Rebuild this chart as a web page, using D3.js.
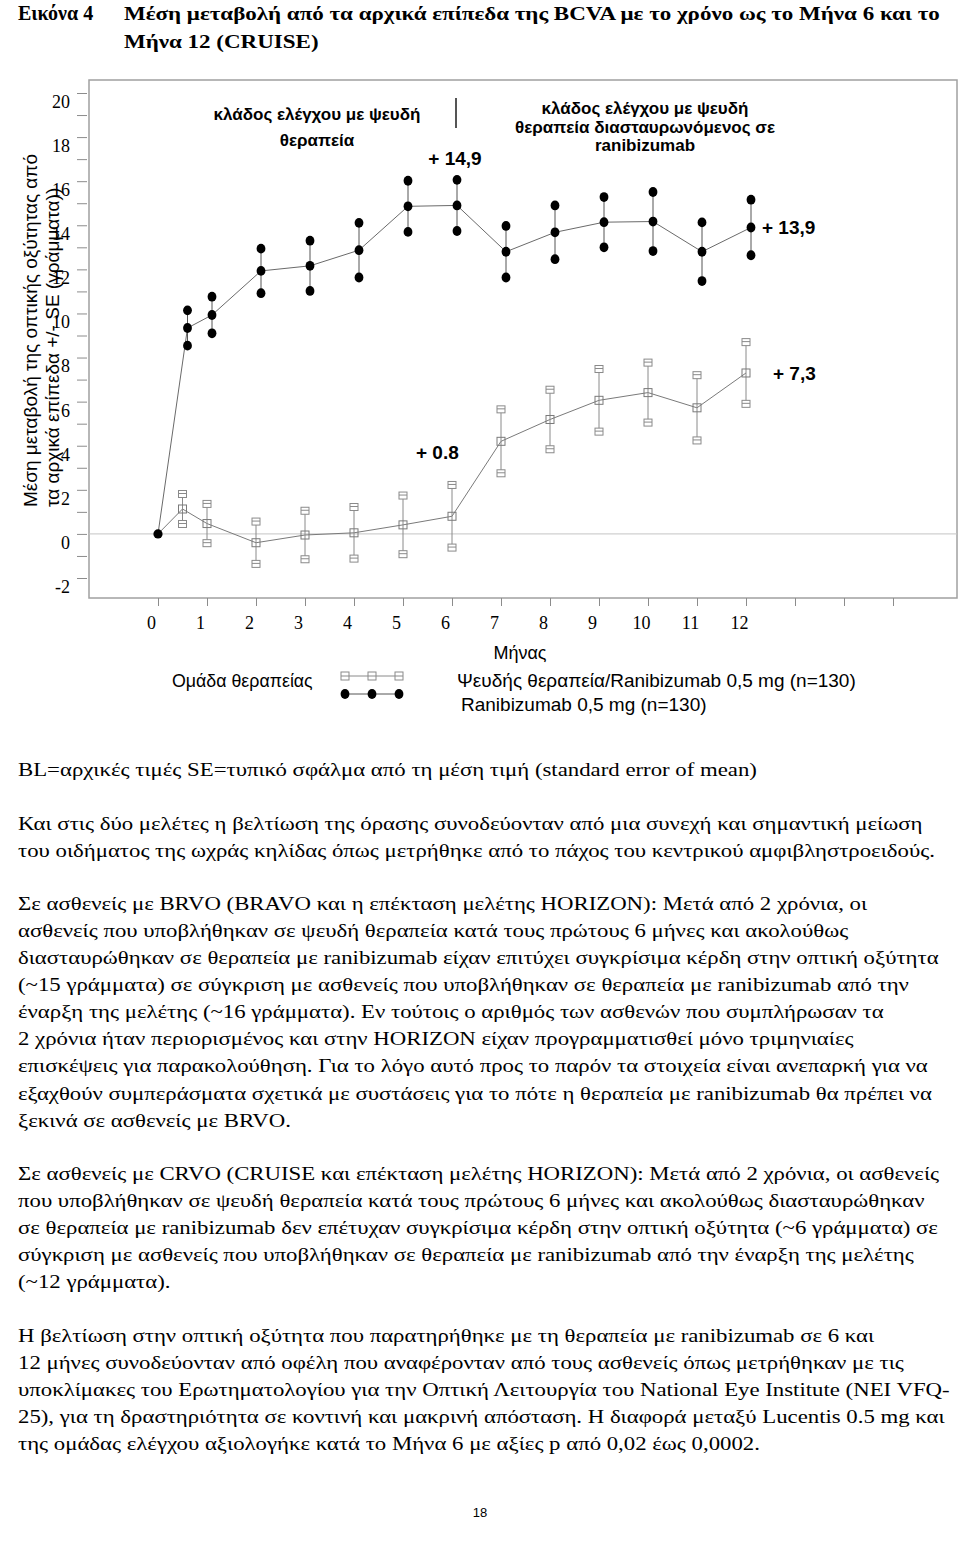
<!DOCTYPE html>
<html>
<head>
<meta charset="utf-8">
<script src="https://cdn.jsdelivr.net/npm/d3@7"></script>
<style>
  body { margin: 0; background: #fff; }
  svg { display: block; }
  .serif { font-family: "Liberation Serif", "Times New Roman", serif; }
  .sans { font-family: "Liberation Sans", Arial, sans-serif; }
</style>
</head>
<body>
<div id="page"></div>
<script>
// months on the x axis (0 = baseline, 0.5 = week 1)
const months = [0, 0.5, 1, 2, 3, 4, 5, 6, 7, 8, 9, 10, 11, 12];
// Ranibizumab 0,5 mg (n=130)
const ranibMean = [0, 9.34, 9.93, 11.93, 12.16, 12.87, 14.86, 14.9, 12.8, 13.68, 14.14, 14.17, 12.8, 13.9];
const ranibSE   = [0, 0.8, 0.83, 1.01, 1.14, 1.24, 1.16, 1.16, 1.17, 1.22, 1.14, 1.34, 1.33, 1.26];
// Sham / Ranibizumab 0,5 mg (n=130)
const shamMean = [0, 1.13, 0.47, -0.4, -0.05, 0.05, 0.41, 0.8, 4.2, 5.19, 6.06, 6.41, 5.72, 7.3];
const shamSE   = [0, 0.68, 0.89, 0.96, 1.1, 1.17, 1.33, 1.42, 1.45, 1.35, 1.42, 1.36, 1.48, 1.4];

const xTickLabels = ["0", "1", "2", "3", "4", "5", "6", "7", "8", "9", "10", "11", "12"];
const yTickValues = d3.range(-2, 21);

const paragraphs = [
  ["BL=αρχικές τιμές SE=τυπικό σφάλμα από τη μέση τιμή (standard error of mean)"],
  ["Και στις δύο μελέτες η βελτίωση της όρασης συνοδεύονταν από μια συνεχή και σημαντική μείωση",
   "του οιδήματος της ωχράς κηλίδας όπως μετρήθηκε από το πάχος του κεντρικού αμφιβληστροειδούς."],
  ["Σε ασθενείς με BRVO (BRAVO και η επέκταση μελέτης HORIZON): Μετά από 2 χρόνια, οι",
   "ασθενείς που υποβλήθηκαν σε ψευδή θεραπεία κατά τους πρώτους 6 μήνες και ακολούθως",
   "διασταυρώθηκαν σε θεραπεία με ranibizumab είχαν επιτύχει συγκρίσιμα κέρδη στην οπτική οξύτητα",
   "(~15 γράμματα) σε σύγκριση με ασθενείς που υποβλήθηκαν σε θεραπεία με ranibizumab από την",
   "έναρξη της μελέτης (~16 γράμματα). Εν τούτοις ο αριθμός των ασθενών που συμπλήρωσαν τα",
   "2 χρόνια ήταν περιορισμένος και στην HORIZON είχαν προγραμματισθεί μόνο τριμηνιαίες",
   "επισκέψεις για παρακολούθηση. Για το λόγο αυτό προς το παρόν τα στοιχεία είναι ανεπαρκή για να",
   "εξαχθούν συμπεράσματα σχετικά με συστάσεις για το πότε η θεραπεία με ranibizumab θα πρέπει να",
   "ξεκινά σε ασθενείς με BRVO."],
  ["Σε ασθενείς με CRVO (CRUISE και επέκταση μελέτης HORIZON): Μετά από 2 χρόνια, οι ασθενείς",
   "που υποβλήθηκαν σε ψευδή θεραπεία κατά τους πρώτους 6 μήνες και ακολούθως διασταυρώθηκαν",
   "σε θεραπεία με ranibizumab δεν επέτυχαν συγκρίσιμα κέρδη στην οπτική οξύτητα (~6 γράμματα) σε",
   "σύγκριση με ασθενείς που υποβλήθηκαν σε θεραπεία με ranibizumab από την έναρξη της μελέτης",
   "(~12 γράμματα)."],
  ["Η βελτίωση στην οπτική οξύτητα που παρατηρήθηκε με τη θεραπεία με ranibizumab σε 6 και",
   "12 μήνες συνοδεύονταν από οφέλη που αναφέρονταν από τους ασθενείς όπως μετρήθηκαν με τις",
   "υποκλίμακες του Ερωτηματολογίου για την Οπτική Λειτουργία του National Eye Institute (NEI VFQ-",
   "25), για τη δραστηριότητα σε κοντινή και μακρινή απόσταση. Η διαφορά μεταξύ Lucentis 0.5 mg και",
   "της ομάδας ελέγχου αξιολογήκε κατά το Μήνα 6 με αξίες p από 0,02 έως 0,0002."]
];

const width = 960, height = 1547;
const box = { left: 89, top: 80, right: 957, bottom: 598 };

const svg = d3.select("#page").append("svg")
    .attr("width", width)
    .attr("height", height);

svg.append("rect").attr("width", width).attr("height", height).attr("fill", "#fff");

// title (the scanned page is a bit wider than Liberation Serif)
svg.append("text").attr("class", "serif").attr("font-weight", "bold").attr("font-size", 20)
    .attr("x", 18).attr("y", 20).text("Εικόνα 4");
const title = svg.append("g").attr("class", "serif").attr("font-weight", "bold").attr("font-size", 19.5)
    .attr("transform", "translate(124,0) scale(1.18,1)");
title.append("text").attr("x", 0).attr("y", 20)
    .text("Μέση μεταβολή από τα αρχικά επίπεδα της BCVA με το χρόνο ως το Μήνα 6 και το");
title.append("text").attr("x", 0).attr("y", 48).text("Μήνα 12 (CRUISE)");

// scales
const x = d3.scaleLinear().domain([0, 15]).range([158, 893]);
const y = d3.scaleLinear().domain([-2, 20]).range([578, 93]);
const dodge = 5; // filled series sits a little right of the squares

// frame
svg.append("rect")
    .attr("x", box.left).attr("y", box.top)
    .attr("width", box.right - box.left).attr("height", box.bottom - box.top)
    .attr("fill", "none").attr("stroke", "#a0a0a0").attr("stroke-width", 1.5);

svg.append("line")
    .attr("x1", box.left).attr("x2", box.right)
    .attr("y1", y(0)).attr("y2", y(0))
    .attr("stroke", "#c4c4c4").attr("stroke-width", 1);

// y axis
const yAxis = svg.append("g")
    .attr("class", "serif")
    .attr("transform", "translate(87,0)")
    .call(d3.axisLeft(y).tickValues(yTickValues).tickSize(10).tickPadding(7)
        .tickFormat(d => d % 2 === 0 ? d : ""));
yAxis.select(".domain").remove();
yAxis.selectAll(".tick line").attr("stroke", "#8c8c8c");
yAxis.selectAll(".tick text").attr("font-size", 18).attr("fill", "#000").attr("dy", "0.8em");

// x axis
const xAxis = svg.append("g")
    .attr("class", "serif")
    .attr("transform", `translate(0,${box.bottom})`)
    .call(d3.axisBottom(x).tickValues(d3.range(0, 16)).tickSize(8).tickPadding(10)
        .tickFormat(d => xTickLabels[d] || ""));
xAxis.select(".domain").remove();
xAxis.selectAll(".tick line").attr("stroke", "#8c8c8c");
xAxis.selectAll(".tick text").attr("font-size", 18).attr("fill", "#000").attr("dx", -7);

// y axis title
const yTitle = svg.append("g").attr("class", "sans").attr("font-size", 19)
    .attr("transform", "translate(0,507) rotate(-90)");
yTitle.append("text").attr("x", 0).attr("y", 37).text("Μέση μεταβολή της οπτικής οξύτητας από");
yTitle.append("text").attr("x", 0).attr("y", 59).text("τα αρχικά επίπεδα +/- SE (γράμματα))");

// series data
const ranib = months.map((m, i) => ({ m, mean: ranibMean[i], se: ranibSE[i], dx: m > 0 ? dodge : 0 }));
const sham = months.map((m, i) => ({ m, mean: shamMean[i], se: shamSE[i], dx: 0 }));

const line = d3.line().x(d => x(d.m) + d.dx).y(d => y(d.mean));

// sham series
svg.append("path").datum(sham)
    .attr("d", line).attr("fill", "none").attr("stroke", "#7a7a7a").attr("stroke-width", 1);

const shamBars = svg.append("g").selectAll("g").data(sham.filter(d => d.se > 0)).join("g");
shamBars.append("line")
    .attr("x1", d => x(d.m) + d.dx).attr("x2", d => x(d.m) + d.dx)
    .attr("y1", d => y(d.mean + d.se)).attr("y2", d => y(d.mean - d.se))
    .attr("stroke", "#8a8a8a").attr("stroke-width", 1);

function squareCap(sel, cy) {
  sel.append("rect")
      .attr("x", d => x(d.m) + d.dx - 4).attr("y", d => cy(d) - 3.5)
      .attr("width", 8).attr("height", 7)
      .attr("fill", "#fff").attr("stroke", "#8a8a8a").attr("stroke-width", 1);
  sel.append("line")
      .attr("x1", d => x(d.m) + d.dx - 4).attr("x2", d => x(d.m) + d.dx + 4)
      .attr("y1", d => cy(d) - 0.5).attr("y2", d => cy(d) - 0.5)
      .attr("stroke", "#8a8a8a").attr("stroke-width", 1);
}
squareCap(shamBars, d => y(d.mean + d.se));
squareCap(shamBars, d => y(d.mean - d.se));
shamBars.append("rect")
    .attr("x", d => x(d.m) + d.dx - 4).attr("y", d => y(d.mean) - 4)
    .attr("width", 8).attr("height", 8)
    .attr("fill", "none").attr("stroke", "#7a7a7a").attr("stroke-width", 1);

// ranibizumab series
svg.append("path").datum(ranib)
    .attr("d", line).attr("fill", "none").attr("stroke", "#6a6a6a").attr("stroke-width", 1);

const ranibBars = svg.append("g").selectAll("g").data(ranib.filter(d => d.se > 0)).join("g");
ranibBars.append("line")
    .attr("x1", d => x(d.m) + d.dx).attr("x2", d => x(d.m) + d.dx)
    .attr("y1", d => y(d.mean + d.se)).attr("y2", d => y(d.mean - d.se))
    .attr("stroke", "#555").attr("stroke-width", 1);
[d => d.mean + d.se, d => d.mean, d => d.mean - d.se].forEach(v => {
  ranibBars.append("ellipse")
      .attr("cx", d => x(d.m) + d.dx).attr("cy", d => y(v(d)))
      .attr("rx", 4.4).attr("ry", 4.9).attr("fill", "#000");
});
// shared baseline point
svg.append("ellipse")
    .attr("cx", x(months[0])).attr("cy", y(ranibMean[0]))
    .attr("rx", 4.6).attr("ry", 4.6).attr("fill", "#000");

// annotations
const ann = svg.append("g").attr("class", "sans").attr("font-weight", "bold").attr("fill", "#000");
ann.append("text").attr("x", 317).attr("y", 120).attr("text-anchor", "middle").attr("font-size", 17)
    .text("κλάδος ελέγχου με ψευδή");
ann.append("text").attr("x", 317).attr("y", 146).attr("text-anchor", "middle").attr("font-size", 17)
    .text("θεραπεία");
svg.append("line").attr("x1", 456).attr("x2", 456).attr("y1", 98).attr("y2", 128)
    .attr("stroke", "#555").attr("stroke-width", 2);
ann.append("text").attr("x", 645).attr("y", 114).attr("text-anchor", "middle").attr("font-size", 17)
    .text("κλάδος ελέγχου με ψευδή");
ann.append("text").attr("x", 645).attr("y", 133).attr("text-anchor", "middle").attr("font-size", 17)
    .text("θεραπεία διασταυρωνόμενος σε");
ann.append("text").attr("x", 645).attr("y", 151).attr("text-anchor", "middle").attr("font-size", 17)
    .text("ranibizumab");

const fmt = v => "+ " + String(v).replace(".", ",");
ann.append("text").attr("x", x(6) + dodge - 2).attr("y", y(ranibMean[7]) - 40).attr("text-anchor", "middle")
    .attr("font-size", 19).text(fmt(ranibMean[7]));
ann.append("text").attr("x", x(12) + 16).attr("y", y(ranibMean[13]) + 7)
    .attr("font-size", 19).text(fmt(ranibMean[13]));
ann.append("text").attr("x", x(12) + 27).attr("y", y(shamMean[13]) + 7)
    .attr("font-size", 19).text(fmt(shamMean[13]));
ann.append("text").attr("x", x(6) - 36).attr("y", y(shamMean[7]) - 57)
    .attr("font-size", 19).text("+ " + shamMean[7].toFixed(1));

// axis title and legend
const leg = svg.append("g").attr("class", "sans").attr("fill", "#000");
leg.append("text").attr("x", 520).attr("y", 659).attr("text-anchor", "middle").attr("font-size", 18).text("Μήνας");
leg.append("text").attr("x", 172).attr("y", 687).attr("font-size", 17.8).text("Ομάδα θεραπείας");
leg.append("text").attr("x", 457).attr("y", 687).attr("font-size", 19).text("Ψευδής θεραπεία/Ranibizumab 0,5 mg (n=130)");
leg.append("text").attr("x", 461).attr("y", 711).attr("font-size", 19).text("Ranibizumab 0,5 mg (n=130)");

const legX = [345, 372, 399];
svg.append("line").attr("x1", legX[0]).attr("x2", legX[2]).attr("y1", 676).attr("y2", 676)
    .attr("stroke", "#8a8a8a");
svg.selectAll(".legsq").data(legX).join("rect").attr("class", "legsq")
    .attr("x", d => d - 4).attr("y", 672).attr("width", 8).attr("height", 8)
    .attr("fill", "#fff").attr("stroke", "#8a8a8a");
svg.selectAll(".legsqline").data(legX).join("line").attr("class", "legsqline")
    .attr("x1", d => d - 4).attr("x2", d => d + 4).attr("y1", 676).attr("y2", 676)
    .attr("stroke", "#8a8a8a");
svg.append("line").attr("x1", legX[0]).attr("x2", legX[2]).attr("y1", 694).attr("y2", 694)
    .attr("stroke", "#555");
svg.selectAll(".legdot").data(legX).join("ellipse").attr("class", "legdot")
    .attr("cx", d => d).attr("cy", 694).attr("rx", 4.4).attr("ry", 4.9).attr("fill", "#000");

// body text, stretched horizontally like the scanned page
const body = svg.append("g").attr("class", "serif").attr("font-size", 19).attr("fill", "#000")
    .attr("transform", "translate(18,0) scale(1.2,1)");
const lineH = 27.05, paraGap = 26.5;
let ty = 776;
paragraphs.forEach(p => {
  p.forEach(t => {
    body.append("text").attr("x", 0).attr("y", ty).text(t);
    ty += lineH;
  });
  ty += paraGap;
});

// page number
svg.append("text").attr("class", "sans").attr("x", 480).attr("y", 1517)
    .attr("text-anchor", "middle").attr("font-size", 13).text("18");
</script>
</body>
</html>
